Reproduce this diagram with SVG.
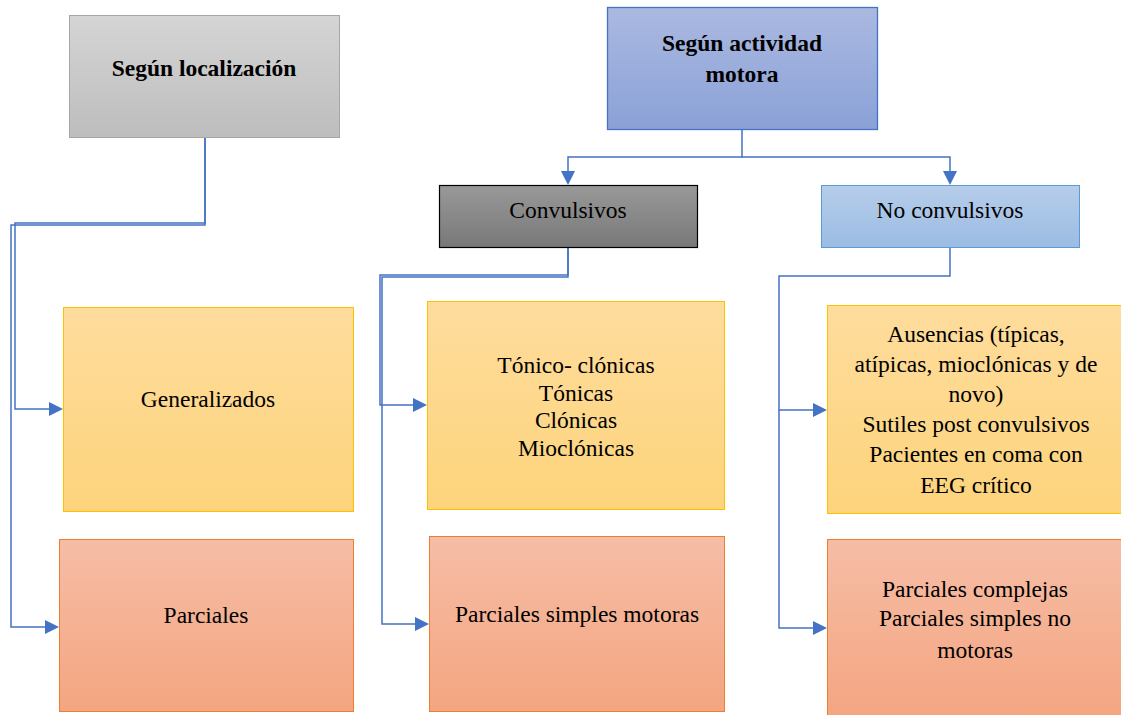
<svg xmlns="http://www.w3.org/2000/svg" width="1121" height="715" viewBox="0 0 1121 715">
<defs>
<linearGradient id="gGray" x1="0" y1="0" x2="0" y2="1"><stop offset="0" stop-color="#d5d5d5"/><stop offset="1" stop-color="#bdbdbd"/></linearGradient>
<linearGradient id="gBlue" x1="0" y1="0" x2="0" y2="1"><stop offset="0" stop-color="#abb9e1"/><stop offset="1" stop-color="#8aa1d7"/></linearGradient>
<linearGradient id="gDark" x1="0" y1="0" x2="0" y2="1"><stop offset="0" stop-color="#999999"/><stop offset="1" stop-color="#787878"/></linearGradient>
<linearGradient id="gLight" x1="0" y1="0" x2="0" y2="1"><stop offset="0" stop-color="#b6cdea"/><stop offset="1" stop-color="#9bbce3"/></linearGradient>
<linearGradient id="gYellow" x1="0" y1="0" x2="0" y2="1"><stop offset="0" stop-color="#fedc9c"/><stop offset="1" stop-color="#fdd47c"/></linearGradient>
<linearGradient id="gOrange" x1="0" y1="0" x2="0" y2="1"><stop offset="0" stop-color="#f6bda6"/><stop offset="1" stop-color="#f4a580"/></linearGradient>
</defs>
<style>
.c{fill:none;stroke:#4472c4;stroke-width:1.5}
.ar{fill:#4472c4;stroke:none}
</style>
<rect width="1121" height="715" fill="#fff"/>
<g id="connectors">
<path class="c" d="M205,137 V223 H15 V409 H52"/>
<path class="c" d="M205,137 V225 H11 V627 H48"/>
<path class="c" d="M742,129 V157 H568 V174"/>
<path class="c" d="M742,157 H950 V174"/>
<path class="c" d="M568,247 V275 H380 V405 H416"/>
<path class="c" d="M568,247 V277 H382 V624 H418"/>
<path class="c" d="M950,247 V276 H779 V410 H816"/>
<path class="c" d="M779,410 V628 H816"/>
<polygon class="ar" points="63,409 49,402 49,416"/>
<polygon class="ar" points="59,627 45,620 45,634"/>
<polygon class="ar" points="568,185 561,171 575,171"/>
<polygon class="ar" points="950,185 943,171 957,171"/>
<polygon class="ar" points="427,405 413,398 413,412"/>
<polygon class="ar" points="429,624 415,617 415,631"/>
<polygon class="ar" points="827,410 813,403 813,417"/>
<polygon class="ar" points="827,628 813,621 813,635"/>
</g>
<g font-family="Liberation Serif, Tinos, Times New Roman, DejaVu Serif, serif" font-size="23.5" fill="#000" text-anchor="middle">
<g id="n-localizacion">
<rect x="69.5" y="15.5" width="270" height="122" fill="url(#gGray)" stroke="#a6a6a6"/>
<text font-weight="bold" x="204" y="76">Según localización</text>
</g>
<g id="n-actividad">
<rect x="607.5" y="7.5" width="270" height="122" fill="url(#gBlue)" stroke="#4472c4" stroke-width="1.3"/>
<text font-weight="bold" x="742" y="51">Según actividad</text>
<text font-weight="bold" x="742" y="82">motora</text>
</g>
<g id="n-convulsivos">
<rect x="439.5" y="185.5" width="258" height="62" fill="url(#gDark)" stroke="#000" stroke-width="1.2"/>
<text x="568" y="218">Convulsivos</text>
</g>
<g id="n-noconvulsivos">
<rect x="821.5" y="185.5" width="258" height="62" fill="url(#gLight)" stroke="#5b9bd5"/>
<text x="950" y="218">No convulsivos</text>
</g>
<g id="n-generalizados">
<rect x="63.5" y="307.5" width="290" height="204" fill="url(#gYellow)" stroke="#ffc000"/>
<text x="208" y="407">Generalizados</text>
</g>
<g id="n-parciales">
<rect x="59.5" y="539.5" width="294" height="172" fill="url(#gOrange)" stroke="#ed7d31"/>
<text x="206" y="623">Parciales</text>
</g>
<g id="n-tonico">
<rect x="427.5" y="301.5" width="297" height="208" fill="url(#gYellow)" stroke="#ffc000"/>
<text x="576" y="373">Tónico- clónicas</text>
<text x="576" y="401">Tónicas</text>
<text x="576" y="428">Clónicas</text>
<text x="576" y="456">Mioclónicas</text>
</g>
<g id="n-psm">
<rect x="429.5" y="536.5" width="295" height="175" fill="url(#gOrange)" stroke="#ed7d31"/>
<text x="577" y="622">Parciales simples motoras</text>
</g>
<g id="n-ausencias">
<rect x="827.5" y="305.5" width="300" height="208" fill="url(#gYellow)" stroke="#ffc000"/>
<text x="976" y="342">Ausencias (típicas,</text>
<text x="976" y="372">atípicas, mioclónicas y de</text>
<text x="976" y="402">novo)</text>
<text x="976" y="432">Sutiles post convulsivos</text>
<text x="976" y="462">Pacientes en coma con</text>
<text x="976" y="493">EEG crítico</text>
</g>
<g id="n-pc">
<rect x="827.5" y="539.5" width="300" height="180" fill="url(#gOrange)" stroke="#ed7d31"/>
<text x="975" y="597">Parciales complejas</text>
<text x="975" y="626">Parciales simples no</text>
<text x="975" y="658">motoras</text>
</g>
</g>
</svg>
